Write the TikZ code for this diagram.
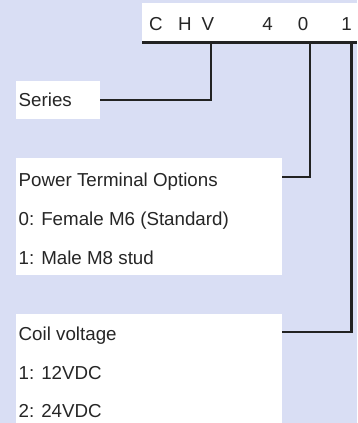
\documentclass[tikz,border=0pt]{standalone}
\usepackage{fontspec}
\setmainfont{Liberation Sans}
\definecolor{bgc}{HTML}{D9DEF4}
\definecolor{linec}{HTML}{222222}
\definecolor{txtc}{HTML}{262626}
\begin{document}
\begin{tikzpicture}[x=1pt,y=-1pt,
  wbox/.style={fill=white, draw=none, anchor=north west, inner sep=0pt},
  lbl/.style={anchor=base west, inner sep=0pt, text=txtc, font=\fontsize{18.75}{20}\selectfont},
  code/.style={anchor=base, inner sep=0pt, text=txtc, font=\fontsize{18.75}{20}\selectfont},
  conn/.style={draw=linec, line width=2.3pt, line join=miter}]
\fill[bgc] (0,0) rectangle (357,423);
\useasboundingbox (0,0) rectangle (357,423);
% top code box
\node[wbox, minimum width=215pt, minimum height=39pt] (topbox) at (142,3) {};
\node[code] (cC) at (156,30) {C};
\node[code] (cH) at (185,30) {H};
\node[code] (cV) at (208,30) {V};
\node[code] (c4) at (267.5,30) {4};
\node[code] (c0) at (303,30) {0};
\node[code] (c1) at (346.5,30) {1};
% boxes
\node[wbox, minimum width=84pt, minimum height=38pt] (series) at (16,81) {};
\node[wbox, minimum width=266pt, minimum height=117pt] (power) at (16,158) {};
\node[wbox, minimum width=266pt, minimum height=109pt] (coil) at (16,314) {};
% labels
\node[lbl] (sl) at (18.5,106.5) {Series};
\node[lbl] (pt) at (18.5,186) {Power Terminal Options};
\node[lbl] (p0) at (18.5,225.5) {0: Female M6 (Standard)};
\node[lbl] (p1) at (18.5,264) {1: Male M8 stud};
\node[lbl] (ct) at (18.5,340) {Coil voltage};
\node[lbl] (c12) at (18.5,379) {1: 12VDC};
\node[lbl] (c24) at (18.5,417.5) {2: 24VDC};
% connectors
\coordinate (t1) at (211,42);
\coordinate (t2) at (310,42);
\coordinate (t3) at (351.5,42);
\coordinate (pr) at (282,177);
\coordinate (cr) at (282,332);
\draw[conn] (topbox.south west) -- (topbox.south east);
\draw[conn] (series.east) -| (t1);
\draw[conn] (pr) -| (t2);
\draw[conn] (cr) -| (t3);
\end{tikzpicture}
\end{document}
